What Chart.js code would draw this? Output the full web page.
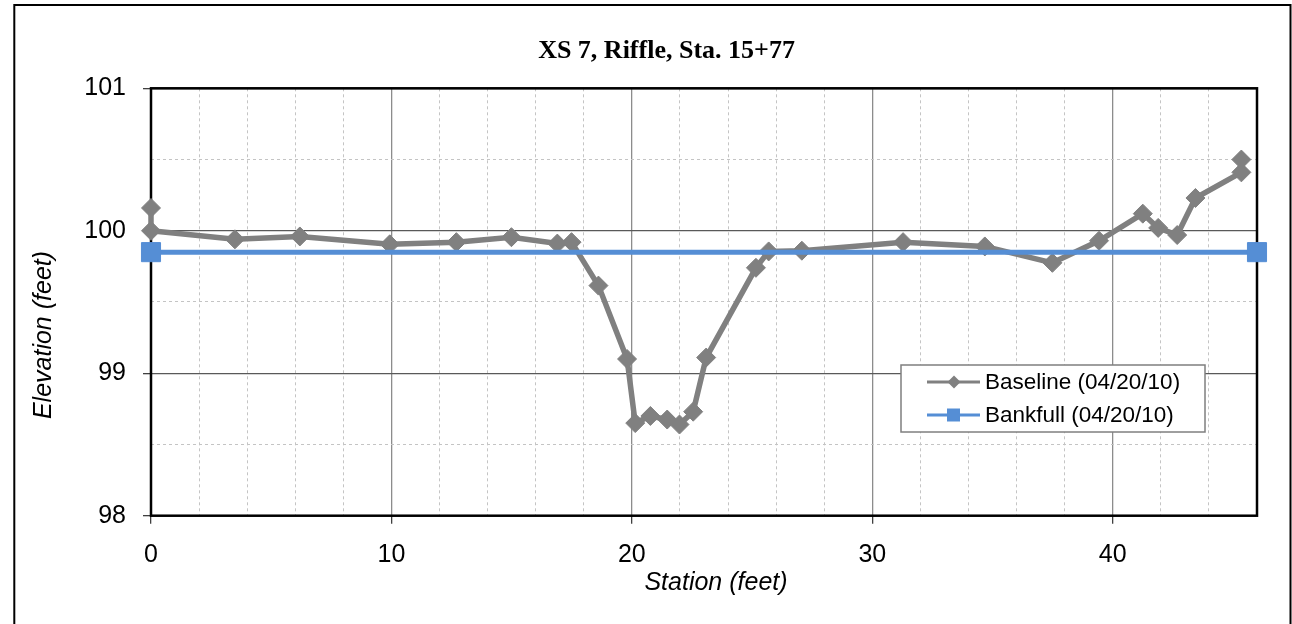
<!DOCTYPE html>
<html>
<head>
<meta charset="utf-8">
<title>XS 7, Riffle, Sta. 15+77</title>
<script src="https://cdn.jsdelivr.net/npm/chart.js@4/dist/chart.umd.min.js"></script>
<style>
  html, body { margin: 0; padding: 0; background: #fff; overflow: hidden; }
  #wrap { position: relative; width: 1292px; height: 624px; }
</style>
</head>
<body>
<div id="wrap"><canvas id="xsChart"></canvas></div>
<script>
// Survey points for the riffle cross-section (station / elevation in feet)
const baselineStation = [0, 0, 3.49, 6.19, 9.93, 12.70, 14.99, 16.90, 17.49, 18.61,
  19.80, 20.14, 20.77, 21.47, 21.98, 22.55, 23.09, 25.16, 25.69, 27.07,
  31.28, 34.68, 37.49, 39.43, 41.25, 41.89, 42.68, 43.44, 45.35, 45.35];
const baselineElev = [100.16, 100.00, 99.94, 99.96, 99.905, 99.92, 99.955, 99.91, 99.92, 99.615,
  99.10, 98.65, 98.70, 98.675, 98.64, 98.73, 99.11, 99.74, 99.855, 99.86,
  99.92, 99.89, 99.775, 99.93, 100.12, 100.02, 99.97, 100.23, 100.41, 100.50];

const bankfullStation = [0, 46];
const bankfullElev = [99.85, 99.85];

const stationLabels = [0, 10, 20, 30, 40];
const elevationLabels = [98, 99, 100, 101];

const SANS = "'Liberation Sans', Arial, sans-serif";
const GRAY = '#808080';
const BLUE = '#558ed5';

function toPoints(xs, ys) {
  return xs.map((x, i) => ({ x: x, y: ys[i] }));
}

function isMajor(ctx, list) {
  return ctx.tick && list.includes(ctx.tick.value);
}

// outer frame, plot frame, legend box and axis titles
const decorations = {
  id: 'decorations',
  beforeDraw(chart) {
    const ctx = chart.ctx;
    ctx.save();
    ctx.strokeStyle = '#000';
    ctx.lineWidth = 2;
    ctx.strokeRect(14.3, 5, 1276.2, 640);
    ctx.restore();
  },
  beforeDatasetsDraw(chart) {
    const a = chart.chartArea;
    const ctx = chart.ctx;
    ctx.save();
    ctx.strokeStyle = '#000';
    ctx.lineWidth = 2.5;
    ctx.strokeRect(a.left, a.top, a.right - a.left, a.bottom - a.top);
    ctx.restore();
  },
  afterDatasetsDraw(chart) {
    const ctx = chart.ctx;
    const box = { x: 901, y: 365, w: 304, h: 67 };
    ctx.save();
    ctx.fillStyle = '#fff';
    ctx.fillRect(box.x, box.y, box.w, box.h);
    ctx.strokeStyle = '#7f7f7f';
    ctx.lineWidth = 1.5;
    ctx.strokeRect(box.x, box.y, box.w, box.h);

    chart.data.datasets.forEach((ds, i) => {
      const cy = 382 + i * 33;
      ctx.strokeStyle = ds.borderColor;
      ctx.lineWidth = 3;
      ctx.beginPath();
      ctx.moveTo(927, cy);
      ctx.lineTo(980, cy);
      ctx.stroke();

      ctx.fillStyle = ds.borderColor;
      ctx.beginPath();
      if (ds.pointStyle === 'rectRot') {
        ctx.moveTo(954, cy - 6.5);
        ctx.lineTo(960.5, cy);
        ctx.lineTo(954, cy + 6.5);
        ctx.lineTo(947.5, cy);
        ctx.closePath();
      } else {
        ctx.rect(947, cy - 6.5, 13, 13);
      }
      ctx.fill();

      ctx.fillStyle = '#000';
      ctx.font = '22.5px ' + SANS;
      ctx.textAlign = 'left';
      ctx.textBaseline = 'middle';
      ctx.fillText(ds.label, 985, cy + 1);
    });
    ctx.restore();
  },
  afterDraw(chart) {
    const ctx = chart.ctx;
    ctx.save();
    ctx.fillStyle = '#000';
    ctx.font = 'italic 25px ' + SANS;
    ctx.textAlign = 'center';
    ctx.textBaseline = 'middle';
    ctx.fillText('Station (feet)', 716, 583);
    ctx.translate(44, 335);
    ctx.rotate(-Math.PI / 2);
    ctx.fillText('Elevation (feet)', 0, 0);
    ctx.restore();
  }
};

const ctx = document.getElementById('xsChart').getContext('2d');
new Chart(ctx, {
  type: 'scatter',
  data: {
    datasets: [
      {
        label: 'Baseline (04/20/10)',
        data: toPoints(baselineStation, baselineElev),
        showLine: true,
        borderColor: GRAY,
        backgroundColor: GRAY,
        borderWidth: 5.5,
        pointStyle: 'rectRot',
        pointRadius: 9.5,
        pointBorderWidth: 1,
        pointBackgroundColor: GRAY,
        clip: false,
        order: 1
      },
      {
        label: 'Bankfull (04/20/10)',
        data: toPoints(bankfullStation, bankfullElev),
        showLine: true,
        borderColor: BLUE,
        backgroundColor: BLUE,
        borderWidth: 5,
        pointStyle: 'rect',
        pointRadius: 13.5,
        pointBorderWidth: 1,
        pointBackgroundColor: BLUE,
        clip: false,
        order: 0
      }
    ]
  },
  options: {
    responsive: true,
    maintainAspectRatio: false,
    animation: false,
    events: [],
    layout: { padding: { left: 76, right: 35, top: 0, bottom: 0 } },
    plugins: {
      legend: { display: false },
      tooltip: { enabled: false },
      title: {
        display: true,
        text: 'XS 7, Riffle, Sta. 15+77',
        color: '#000',
        font: { family: "'Liberation Serif', 'Times New Roman', serif", size: 26, weight: 'bold' },
        padding: { top: 36, bottom: 21.1 }
      }
    },
    scales: {
      x: {
        type: 'linear',
        min: 0,
        max: 46,
        ticks: {
          stepSize: 2,
          autoSkip: false,
          maxRotation: 0,
          padding: 16,
          color: '#000',
          font: { family: SANS, size: 25 },
          callback: v => stationLabels.includes(v) ? String(v) : ''
        },
        grid: {
          color: c => isMajor(c, stationLabels) ? '#8c8c8c' : '#c4c4c4',
          lineWidth: c => isMajor(c, stationLabels) ? 1.3 : 1,
          tickLength: 8,
          tickColor: c => isMajor(c, stationLabels) ? '#404040' : 'rgba(0,0,0,0)'
        },
        border: {
          display: false,
          dash: c => (c.tick && !isMajor(c, stationLabels)) ? [3, 3] : []
        },
        afterFit: s => { s.height = 108.3; }
      },
      y: {
        min: 98,
        max: 101,
        ticks: {
          stepSize: 0.5,
          autoSkip: false,
          padding: 17,
          color: '#000',
          font: { family: SANS, size: 25 },
          callback: v => elevationLabels.includes(v) ? String(v) : ''
        },
        grid: {
          color: c => isMajor(c, elevationLabels) ? '#595959' : '#c4c4c4',
          lineWidth: c => isMajor(c, elevationLabels) ? 1.3 : 1,
          tickLength: 8,
          tickColor: c => isMajor(c, elevationLabels) ? '#404040' : 'rgba(0,0,0,0)'
        },
        border: {
          display: false,
          dash: c => (c.tick && !isMajor(c, elevationLabels)) ? [3, 3] : []
        },
        afterFit: s => { s.width = 75; }
      }
    }
  },
  plugins: [decorations]
});
</script>
</body>
</html>
